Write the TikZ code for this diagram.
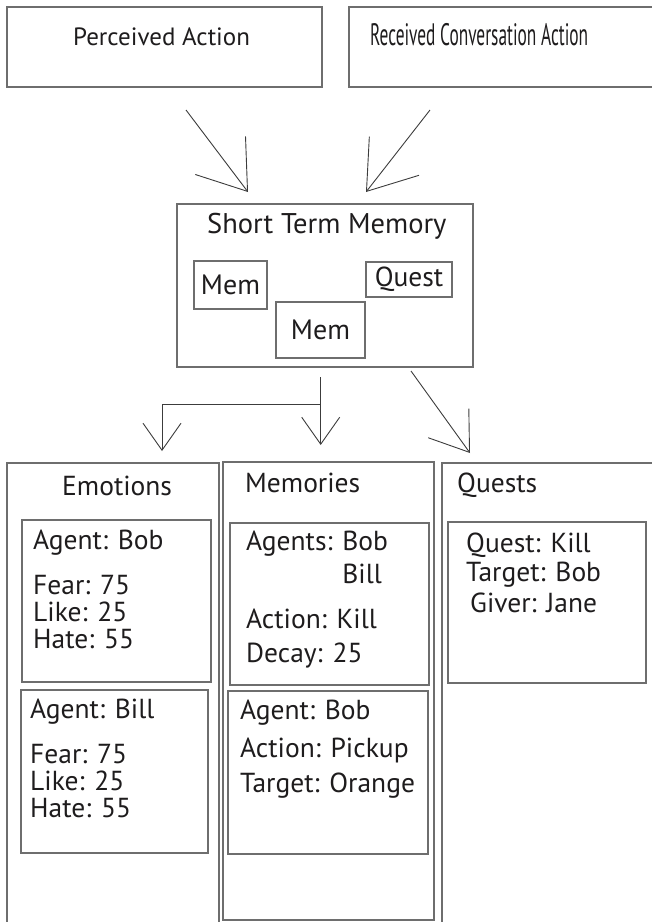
\documentclass[tikz,border=0pt]{standalone}
\usepackage{fontspec}
\setmainfont{PT Sans}
\newfontfamily\narrowfont[FakeStretch=0.56]{PT Sans}
\usetikzlibrary{arrows.meta, positioning}
\definecolor{LineGray}{HTML}{6E6E6E}
\definecolor{ArrowGray}{HTML}{3C3C3C}
\definecolor{Ink}{HTML}{1E1C1D}
\newcommand{\labelsize}{\fontsize{27.5}{27}\selectfont}
\newcommand{\headsize}{\fontsize{25}{27}\selectfont}

\begin{document}
\begin{tikzpicture}[x=1pt, y=-1pt,
    frame/.style={draw=LineGray, line width=1.3pt, inner sep=0pt, outer sep=0pt},
    lbl/.style={anchor=base west, inner sep=0pt, text=Ink, font=\labelsize, align=left},
    bigarrow/.style={draw=ArrowGray, line width=0.9pt, -{Straight Barb[length=45pt, width=63pt]}},
    midarrow/.style={draw=ArrowGray, line width=0.9pt, -{Straight Barb[length=36pt, width=50pt]}},
    smallarrow/.style={draw=ArrowGray, line width=0.9pt, -{Straight Barb[length=27pt, width=38pt]}}
]
    \useasboundingbox (0,0) rectangle (652,922);
    \clip (0,0) rectangle (652,922);

    % Inputs
    \node[frame, minimum width=315, minimum height=80] (perceived) at (164.5,47) {};
    \node[frame, minimum width=331, minimum height=80] (received) at (514.5,47) {};
    \node[lbl, font=\headsize] (perceivedtxt) at (73,45) {Perceived Action};
    \node[lbl, font=\narrowfont\fontsize{31}{34}\selectfont] (receivedtxt) at (370,45) {Received Conversation Action};

    % Short term memory
    \node[frame, minimum width=296, minimum height=163] (stm) at (325,285.5) {};
    \node[lbl, font=\fontsize{28.5}{30}\selectfont] (stmtitle) at (207,233) {Short Term Memory};
    \node[frame, minimum width=73, minimum height=48, font=\fontsize{28}{28}\selectfont, text=Ink] (memone) at (230.5,285) {Mem};
    \node[frame, minimum width=86, minimum height=35, font=\fontsize{27.5}{28}\selectfont, text=Ink] (questitem) at (409,279.5) {Quest};
    \node[frame, minimum width=89, minimum height=56, font=\fontsize{28}{28}\selectfont, text=Ink] (memtwo) at (320.5,330) {Mem};

    % Arrows
    \coordinate (pa-start) at (186,110);
    \coordinate (pa-tip) at (248,192);
    \coordinate (rca-start) at (430,110);
    \coordinate (rca-tip) at (366,192);
    \draw[bigarrow] (pa-start) -- (pa-tip);
    \draw[bigarrow] (rca-start) -- (rca-tip);

    \coordinate (split-top) at (320.7,377);
    \coordinate (split-knee) at (320.7,404);
    \coordinate (mem-tip) at (320.7,445);
    \coordinate (emo-tip) at (162,451);
    \coordinate (quest-start) at (411,371);
    \coordinate (quest-tip) at (470,453);
    \draw[midarrow] (quest-start) -- (quest-tip);
    \draw[smallarrow] (split-top) -- (mem-tip);
    \draw[smallarrow] (split-knee) -| (emo-tip);

    % Columns
    \node[frame, minimum width=212, minimum height=477] (emotions) at (113,701.5) {};
    \node[frame, minimum width=211, minimum height=458] (memories) at (328.5,691) {};
    \node[frame, minimum width=238, minimum height=477] (quests) at (561,701.5) {};
    \node[lbl] (emohead) at (62,495) {Emotions};
    \node[lbl] (memhead) at (245,492) {Memories};
    \node[lbl] (questhead) at (457,492) {Quests};

    % Emotions (placed at the baseline of the last line)
    \node[frame, minimum width=189, minimum height=162] (emobob) at (116.5,601) {};
    \node[frame, minimum width=187, minimum height=163] (emobill) at (114.5,771.5) {};
    \node[lbl] (emobobtxt) at (33,648) {Agent: Bob\\[18pt] Fear: 75\\ Like: 25\\ Hate: 55};
    \node[lbl] (emobilltxt) at (30,817) {Agent: Bill\\[18pt] Fear: 75\\ Like: 25\\ Hate: 55};

    % Memories
    \node[frame, minimum width=199, minimum height=162] (memkill) at (329.5,604) {};
    \node[frame, minimum width=200, minimum height=163] (mempick) at (328,772.5) {};
    \node[lbl] (memkilltxt) at (246,662) {Agents: Bob\\[6pt] \hphantom{Agents: }Bill\\[18pt] Action: Kill\\[7pt] Decay: 25};
    \node[lbl] (mempicktxt) at (240,792) {Agent: Bob\\[11pt] Action: Pickup\\[8pt] Target: Orange};

    % Quests
    \node[frame, minimum width=198, minimum height=161] (questkill) at (547,602.5) {};
    \node[lbl] (questkilltxt) at (466,612) {Quest: Kill\\[2pt] Target: Bob\\[4pt] \hspace{4pt}Giver: Jane};
\end{tikzpicture}
\end{document}
